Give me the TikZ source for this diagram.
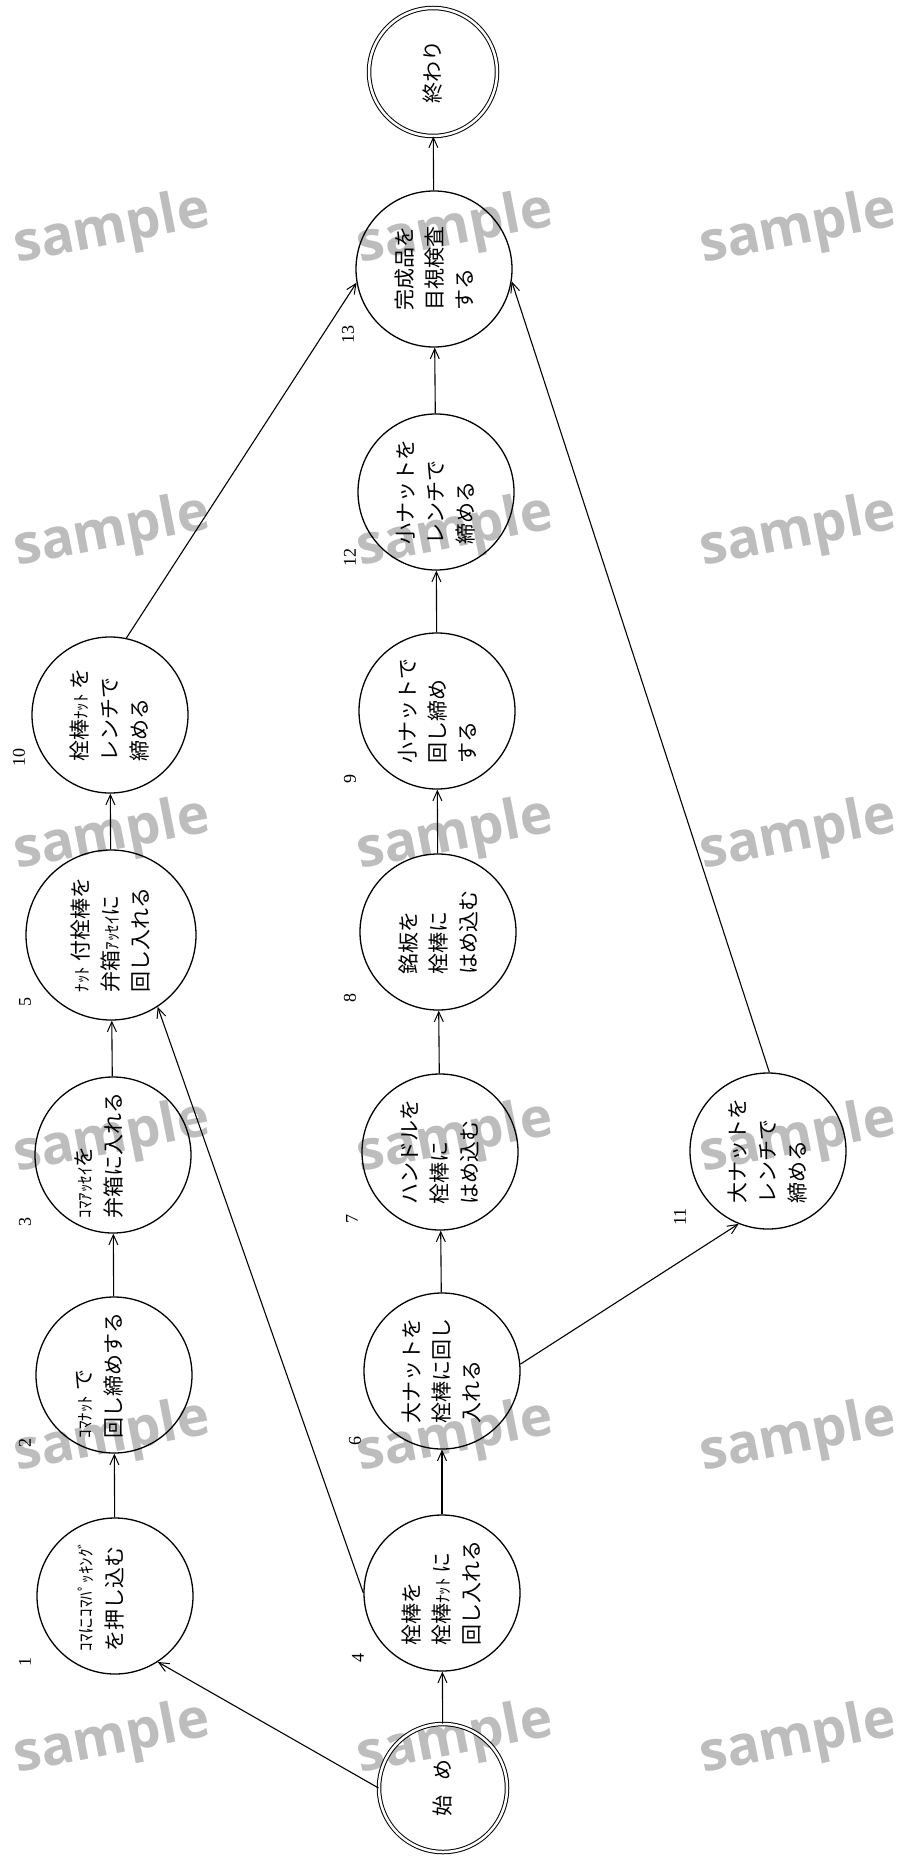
\documentclass[tikz,border=0pt]{standalone}
\usepackage{fontspec}
\setmainfont{Liberation Serif}
\newfontfamily\jp{Noto Sans CJK JP}
\newfontfamily\wmfont{Open Sans}
\usetikzlibrary{arrows.meta}
\newcommand\hk[1]{{\fontsize{17}{30}\selectfont #1}}
\begin{document}
\begin{tikzpicture}[x=1pt,y=-1pt,
  proc/.style={draw, circle, line width=1.3pt, minimum size=156pt, inner sep=0pt},
  bigproc/.style={proc, minimum size=170pt},
  dbl/.style={draw, circle, line width=1pt, double, double distance=2.5pt, minimum size=128pt, inner sep=0pt},
  txt/.style={rotate=90, align=left, inner sep=0pt, font=\jp\fontsize{21}{30}\selectfont},
  num/.style={rotate=90, inner sep=0pt, font=\fontsize{18}{18}\selectfont},
  wmk/.style={rotate=11, inner sep=0pt, text=black!26, font=\wmfont\bfseries\fontsize{55}{55}\selectfont},
  conn/.style={line width=1.1pt, -{Straight Barb[length=10pt,width=9pt,line width=1pt]}}]
\useasboundingbox (0,0) rectangle (899,1859);
\fill[white] (0,0) rectangle (899,1859);
% watermarks
\foreach \r/\yy in {1/230,2/533,3/836,4/1139,5/1438,6/1740}{
  \node[wmk] (wa\r) at (112,\yy) {sample};
  \node[wmk] (wb\r) at (455,\yy) {sample};
  \node[wmk] (wc\r) at (798,\yy) {sample};
}
% circles
\node[dbl] (end) at (433,72) {};
\node[proc] (n13) at (434,269) {};
\node[proc] (n12) at (436,492) {};
\node[proc] (n9) at (437,711) {};
\node[proc] (n8) at (438,932) {};
\node[proc] (n7) at (440,1152) {};
\node[proc] (n6) at (442,1371) {};
\node[proc] (n4) at (442,1593) {};
\node[dbl] (s) at (443,1788) {};
\node[proc] (n1) at (115,1596) {};
\node[proc] (n2) at (114,1375) {};
\node[proc] (n3) at (113,1155) {};
\node[bigproc] (n5) at (111,935) {};
\node[proc] (n10) at (110,715) {};
\node[proc] (n11) at (768,1151) {};
% texts
\node[txt] (tend) at (end) {終わり};
\node[txt] (ts) at (s) {始\hspace{0.75em}め};
\node[txt] (t1) at (n1) {\hk{ｺﾏにｺﾏﾊﾟｯｷﾝｸﾞ}\\を押し込む\\\mbox{}};
\node[txt] (t2) at (n2) {\hk{ｺﾏﾅｯﾄ} で\\回し締めする\\\mbox{}};
\node[txt] (t3) at (n3) {\hk{ｺﾏｱｯｾｲ}を\\弁箱に入れる\\\mbox{}};
\node[txt] (t5) at (n5) {\hk{ﾅｯﾄ} 付栓棒を\\弁箱\hk{ｱｯｾｲ}に\\回し入れる};
\node[txt] (t10) at (n10) {栓棒\hk{ﾅｯﾄ} を\\レンチで\\締める};
\node[txt] (t4) at (n4) {栓棒を\\栓棒\hk{ﾅｯﾄ} に\\回し入れる};
\node[txt] (t6) at (n6) {大ナットを\\栓棒に回し\\入れる};
\node[txt] (t7) at (n7) {ハンドルを\\栓棒に\\はめ込む};
\node[txt] (t8) at (n8) {銘板を\\栓棒に\\はめ込む};
\node[txt] (t9) at (n9) {小ナットで\\回し締め\\する};
\node[txt] (t12) at (n12) {小ナットを\\レンチで\\締める};
\node[txt] (t13) at (n13) {完成品を\\目視検査\\する};
\node[txt] (t11) at (n11) {大ナットを\\レンチで\\締める};
% numbers
\node[num] (l1) at (25,1662) {1};
\node[num] (l2) at (25,1443) {2};
\node[num] (l3) at (25,1222) {3};
\node[num] (l5) at (25,1002) {5};
\node[num] (l10) at (19,757) {10};
\node[num] (l4) at (358,1658) {4};
\node[num] (l6) at (355,1441) {6};
\node[num] (l7) at (352,1219) {7};
\node[num] (l8) at (350,998) {8};
\node[num] (l9) at (350,779) {9};
\node[num] (l12) at (350,557) {12};
\node[num] (l13) at (348,334) {13};
\node[num] (l11) at (680,1217) {11};
% connectors
\draw[conn] (s.180) -- (n1.-57);
\draw[conn] (s) -- (n4);
\draw[conn] (n1) -- (n2);
\draw[conn] (n2) -- (n3);
\draw[conn] (n3) -- (n5);
\draw[conn] (n5) -- (n10);
\draw[conn] (n4.180) -- (n5.-57);
\draw[conn] (n4) -- (n6);
\draw[conn] (n6) -- (n7);
\draw[conn] (n7) -- (n8);
\draw[conn] (n8) -- (n9);
\draw[conn] (n9) -- (n12);
\draw[conn] (n12) -- (n13);
\draw[conn] (n13) -- (end);
\draw[conn] (n6.5) -- (n11.-112);
\draw[conn] (n10.78) -- (n13.190);
\draw[conn] (n11.89) -- (n13.-9);
\end{tikzpicture}
\end{document}
